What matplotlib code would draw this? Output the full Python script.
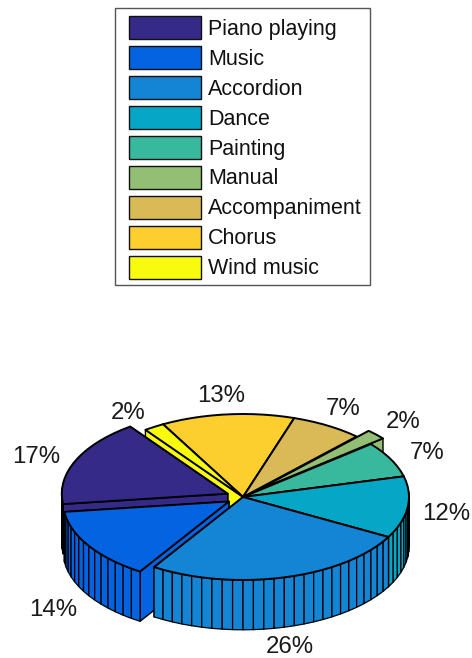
#!/usr/bin/env python3
# -*- coding:utf-8 -*-
import matplotlib
matplotlib.use("Agg")
import matplotlib.pyplot as plt
import numpy as np
from matplotlib.patches import Patch, Polygon, Rectangle

plt.rcParams['font.family'] = ['Liberation Sans', 'DejaVu Sans']

# data
labels = ["Piano playing", "Music", "Accordion", "Dance", "Painting",
          "Manual", "Accompaniment", "Chorus", "Wind music"]
percent = [17, 14, 26, 12, 7, 2, 7, 13, 2]
exploded = [1, 1, 0, 0, 0, 1, 0, 0, 0]
colors = ["#352A87", "#0363E1", "#1485D4", "#06A7C6", "#38B99E",
          "#92BF73", "#D9BA56", "#FCCE2E", "#F9FB0E"]

# pie geometry, in units of the pie radius
start_deg = 126
tilt = 0.5
height = 0.30
explode_by = 0.1
# percent labels sit at (x, screen y) in the same units
label_xy = [(-1.247, 0.241), (-1.145, -0.681), (0.283, -0.904), (1.223, -0.102),
            (1.108, 0.265), (0.964, 0.452), (0.602, 0.530), (-0.133, 0.608),
            (-0.693, 0.506)]

W, H = 472, 658
fig = plt.figure(figsize=(W/100, H/100), dpi=100)
ax = fig.add_axes([0, 0, 1, 1])
R = 166
cx, cy = 243, 497
ax.set_xlim(-cx/R, (W-cx)/R)
ax.set_ylim(-(H-cy)/R, cy/R)
ax.axis('off')

edges = start_deg + np.cumsum([0] + percent)*3.6
mids = (edges[:-1]+edges[1:])/2


def project(r, deg, ox, oy, z=0.0):
    t = np.radians(deg)
    return ox + r*np.cos(t), tilt*(oy + r*np.sin(t)) + z


def poly(pts, color, lw=1.0, edge='black'):
    ax.add_patch(Polygon(pts, closed=True, facecolor=color, edgecolor=edge,
                         linewidth=lw, joinstyle='round'))


# back slices first so the nearer ones paint over them
for i in np.argsort(-np.sin(np.radians(mids))):
    c = colors[i]
    ox = exploded[i]*explode_by*np.cos(np.radians(mids[i]))
    oy = exploded[i]*explode_by*np.sin(np.radians(mids[i]))
    n = max(1, percent[i])
    ang = np.linspace(edges[i], edges[i+1], n+1)
    rim = np.array([project(1, a, ox, oy) for a in ang])
    apex = np.array(project(0, 0, ox, oy))

    # radial side walls
    for a in (edges[i], edges[i+1]):
        p = np.array(project(1, a, ox, oy))
        poly([apex, p, p-[0, height], apex-[0, height]], c)

    # outer wall, one facet per percent
    for k in range(n):
        if np.sin(np.radians((ang[k]+ang[k+1])/2)) < 0.05:
            poly([rim[k], rim[k+1], rim[k+1]-[0, height], rim[k]-[0, height]], c, lw=0.9)

    # top face
    poly(np.vstack([apex, rim]), c, lw=1.4)

for v, (x, y) in zip(percent, label_xy):
    ax.text(x, y, f"{v}%", fontsize=17.3, color='#1a1a1a', ha='center', va='center')

# legend box and entries
ax.add_patch(Rectangle((115/W, 1-285/H), 255/W, 277/H, transform=fig.transFigure,
                       facecolor='white', edgecolor='#555555', linewidth=1.0, zorder=4))
handles = [Patch(facecolor=c, edgecolor='#101010', linewidth=1.0) for c in colors]
leg = ax.legend(handles, labels, loc='upper left', bbox_to_anchor=(129/W, 1-16/H),
                bbox_transform=fig.transFigure, fontsize=15.5, frameon=False,
                borderaxespad=0, borderpad=0,
                handlelength=3.35, handleheight=1.25, handletextpad=0.33,
                labelspacing=0.295, labelcolor='#111111')
leg.set_zorder(5)

fig.savefig('out.png', dpi=100)
